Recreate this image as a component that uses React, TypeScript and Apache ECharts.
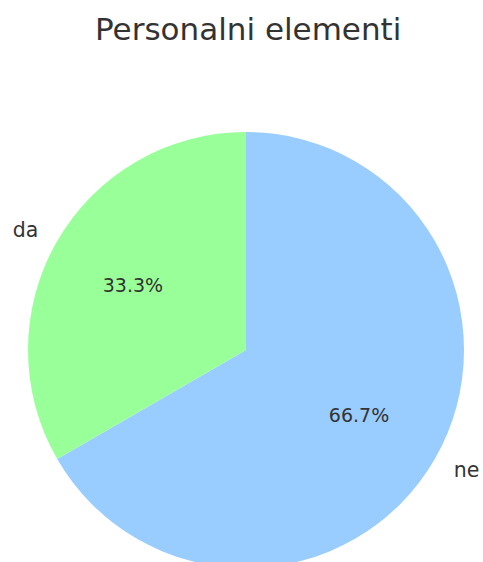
import React, { useEffect, useRef } from "react";
import * as echarts from "echarts";

const categories = ["ne", "da"];
const values = [2, 1];
const colors = ["#99ccff", "#99ff99"];
const titleText = "Personalni elementi";

const FONT = "DejaVu Sans";
const R = 218;
const CX = 246;
const CY = 350;

export default function App() {
  const ref = useRef<HTMLDivElement>(null);
  useEffect(() => {
    document.body.style.margin = "0";
    const chart = echarts.init(ref.current!, null, { renderer: "svg" });
    const total = values.reduce((a, b) => a + b, 0);
    const data = categories.map((c, i) => ({
      name: c,
      value: values[i],
      itemStyle: { color: colors[i] },
    }));
    chart.setOption({
      animation: false,
      backgroundColor: "#ffffff",
      title: {
        text: titleText,
        left: 90,
        top: 8,
        textStyle: { fontFamily: FONT, fontSize: 31, fontWeight: "normal", color: "#333333" },
      },
      series: [
        {
          type: "pie",
          center: [CX, CY],
          radius: [0, R],
          startAngle: 90,
          clockwise: true,
          silent: true,
          avoidLabelOverlap: false,
          data,
          label: {
            show: true,
            position: "outer",
            formatter: "{b}",
            fontFamily: FONT,
            fontSize: 20.5,
            color: "#333333",
            distanceToLabelLine: 0,
          },
          labelLine: { show: false, length: R * 0.1, length2: 0 },
          itemStyle: { borderWidth: 0 },
        },
        {
          type: "pie",
          center: [CX, CY],
          radius: [0, R * 1.17],
          startAngle: 90,
          clockwise: true,
          silent: true,
          avoidLabelOverlap: false,
          z: 3,
          data: categories.map((c, i) => ({
            name: c,
            value: values[i],
            itemStyle: { color: "rgba(0,0,0,0)" },
          })),
          label: {
            show: true,
            position: "inside",
            formatter: (p: any) => ((p.value / total) * 100).toFixed(1) + "%",
            fontFamily: FONT,
            fontSize: 19,
            color: "#333333",
          },
          labelLine: { show: false },
          itemStyle: { borderWidth: 0 },
        },
      ],
    });
    return () => chart.dispose();
  }, []);
  return (
    <div
      ref={ref}
      style={{ position: "absolute", left: 0, top: 0, width: 483, height: 562 }}
    />
  );
}
